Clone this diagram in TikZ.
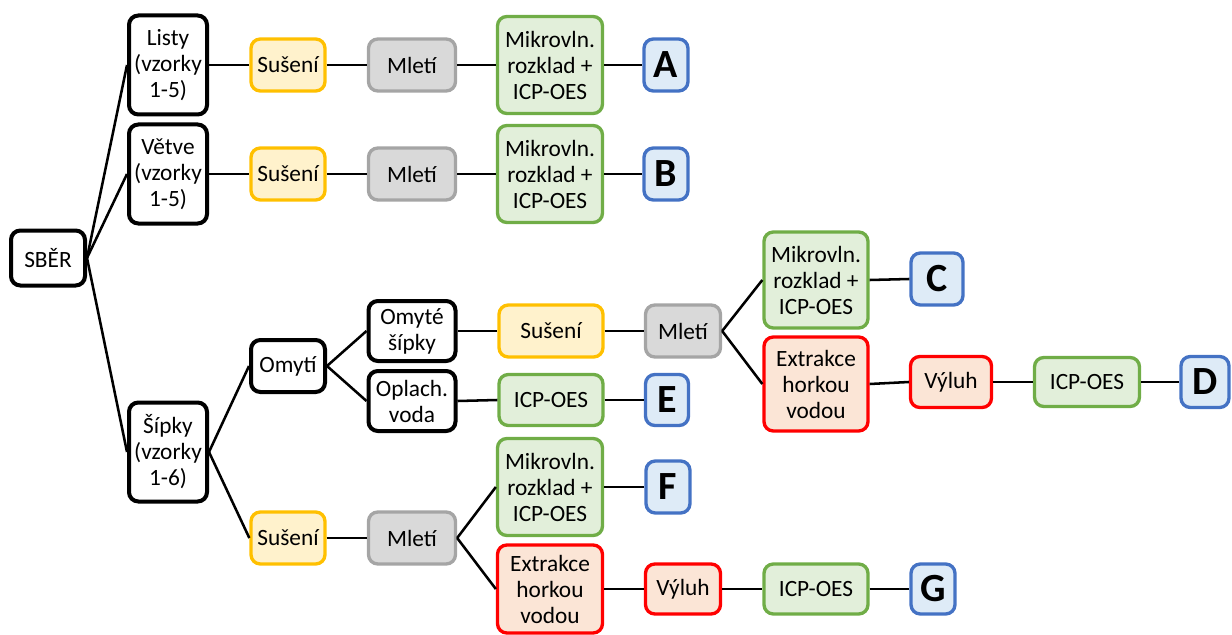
\documentclass[tikz,border=0pt]{standalone}
\usepackage{fontspec}
\setmainfont{Carlito}
\begin{document}
\begin{tikzpicture}[x=0.75pt,y=-0.75pt,
  bx/.style={rounded corners=7pt, line width=2.5pt, align=center, inner sep=0pt,
    font=\fontsize{17.5}{19.5}\selectfont},
  sz/.style 2 args={minimum width=#1*0.75pt, minimum height=#2*0.75pt},
  blk/.style={bx, draw=black, fill=white, line width=3pt},
  yel/.style={bx, draw=yellowB, fill=yellowF},
  gry/.style={bx, draw=grayB, fill=grayF},
  grn/.style={bx, draw=greenB, fill=greenF},
  redb/.style={bx, draw=redB, fill=redF},
  blu/.style={bx, draw=blueB, fill=blueF, font=\fontsize{30}{30}\selectfont\bfseries},
  ln/.style={line width=1.9pt, black}
]
\definecolor{yellowB}{HTML}{FFC000}
\definecolor{yellowF}{HTML}{FFF2CC}
\definecolor{grayB}{HTML}{A5A5A5}
\definecolor{grayF}{HTML}{D9D9D9}
\definecolor{greenB}{HTML}{70AD47}
\definecolor{greenF}{HTML}{E2EFDA}
\definecolor{redB}{HTML}{FF0000}
\definecolor{redF}{HTML}{FBE5D6}
\definecolor{blueB}{HTML}{4472C4}
\definecolor{blueF}{HTML}{DEEBF7}
\useasboundingbox (0,0) rectangle (1232,635);

\node[blk, sz={74}{55}] (sber) at (48,258) {SBĚR};
\node[blk, sz={78}{99}] (listy) at (168,65) {Listy\\(vzorky\\1-5)};
\node[blk, sz={78}{99}] (vetve) at (168,174) {Větve\\(vzorky\\1-5)};
\node[blk, sz={78}{99}] (sipky) at (168,452) {Šípky\\(vzorky\\1-6)};

% row 1
\node[yel, sz={74}{52}] (s1) at (288,65) {Sušení};
\node[gry, sz={87}{52}] (m1) at (412,65) {Mletí};
\node[grn, sz={105}{97}] (mk1) at (550,65) {Mikrovln.\\rozklad +\\ICP-OES};
\node[blu, sz={44}{52}] (A) at (666,65) {A};
% row 2
\node[yel, sz={74}{52}] (s2) at (288,174) {Sušení};
\node[gry, sz={87}{52}] (m2) at (412,174) {Mletí};
\node[grn, sz={105}{97}] (mk2) at (550,174) {Mikrovln.\\rozklad +\\ICP-OES};
\node[blu, sz={44}{52}] (B) at (666,174) {B};
% omyti branch
\node[blk, sz={74}{52}] (omyti) at (288,366) {Omytí};
\node[blk, sz={87}{60}] (omyte) at (412,331) {Omyté\\šípky};
\node[blk, sz={87}{60}] (oplach) at (412,401) {Oplach.\\voda};
\node[yel, sz={104}{52}] (s3) at (551,331) {Sušení};
\node[gry, sz={75}{52}] (m3) at (683,331) {Mletí};
\node[grn, sz={104}{96}] (mkC) at (816,280) {Mikrovln.\\rozklad +\\ICP-OES};
\node[blu, sz={52}{52}] (C) at (937,279) {C};
\node[redb, sz={104}{94}] (exD) at (816,384) {Extrakce\\horkou\\vodou};
\node[redb, sz={81}{51}] (vyD) at (951,382) {Výluh};
\node[grn, sz={105}{49}] (icpD) at (1087,382) {ICP-OES};
\node[blu, sz={48}{51}] (D) at (1205,382) {D};
\node[grn, sz={104}{51}] (icpE) at (551,400) {ICP-OES};
\node[blu, sz={43}{51}] (E) at (667,400) {E};
% susení branch
\node[yel, sz={74}{52}] (s4) at (288,538) {Sušení};
\node[gry, sz={87}{52}] (m4) at (412,538) {Mletí};
\node[grn, sz={105}{97}] (mkF) at (550,487) {Mikrovln.\\rozklad +\\ICP-OES};
\node[blu, sz={44}{52}] (F) at (668,487) {F};
\node[redb, sz={105}{88}] (exG) at (550,589) {Extrakce\\horkou\\vodou};
\node[redb, sz={75}{50}] (vyG) at (683,589) {Výluh};
\node[grn, sz={104}{50}] (icpG) at (816,589) {ICP-OES};
\node[blu, sz={44}{50}] (G) at (933,589) {G};

\draw[ln] (sber.east) -- (listy.west);
\draw[ln] (sber.east) -- (vetve.west);
\draw[ln] (sber.east) -- (sipky.west);
\draw[ln] (listy.east) -- (s1.west);
\draw[ln] (s1.east) -- (m1.west);
\draw[ln] (m1.east) -- (mk1.west);
\draw[ln] (mk1.east) -- (A.west);
\draw[ln] (vetve.east) -- (s2.west);
\draw[ln] (s2.east) -- (m2.west);
\draw[ln] (m2.east) -- (mk2.west);
\draw[ln] (mk2.east) -- (B.west);
\draw[ln] (sipky.east) -- (omyti.west);
\draw[ln] (sipky.east) -- (s4.west);
\draw[ln] (omyti.east) -- (omyte.west);
\draw[ln] (omyti.east) -- (oplach.west);
\draw[ln] (omyte.east) -- (s3.west);
\draw[ln] (s3.east) -- (m3.west);
\draw[ln] (m3.east) -- (mkC.west);
\draw[ln] (m3.east) -- (exD.west);
\draw[ln] (mkC.east) -- (C.west);
\draw[ln] (exD.east) -- (vyD.west);
\draw[ln] (vyD.east) -- (icpD.west);
\draw[ln] (icpD.east) -- (D.west);
\draw[ln] (oplach.east) -- (icpE.west);
\draw[ln] (icpE.east) -- (E.west);
\draw[ln] (s4.east) -- (m4.west);
\draw[ln] (m4.east) -- (mkF.west);
\draw[ln] (m4.east) -- (exG.west);
\draw[ln] (mkF.east) -- (F.west);
\draw[ln] (exG.east) -- (vyG.west);
\draw[ln] (vyG.east) -- (icpG.west);
\draw[ln] (icpG.east) -- (G.west);
\end{tikzpicture}
\end{document}
